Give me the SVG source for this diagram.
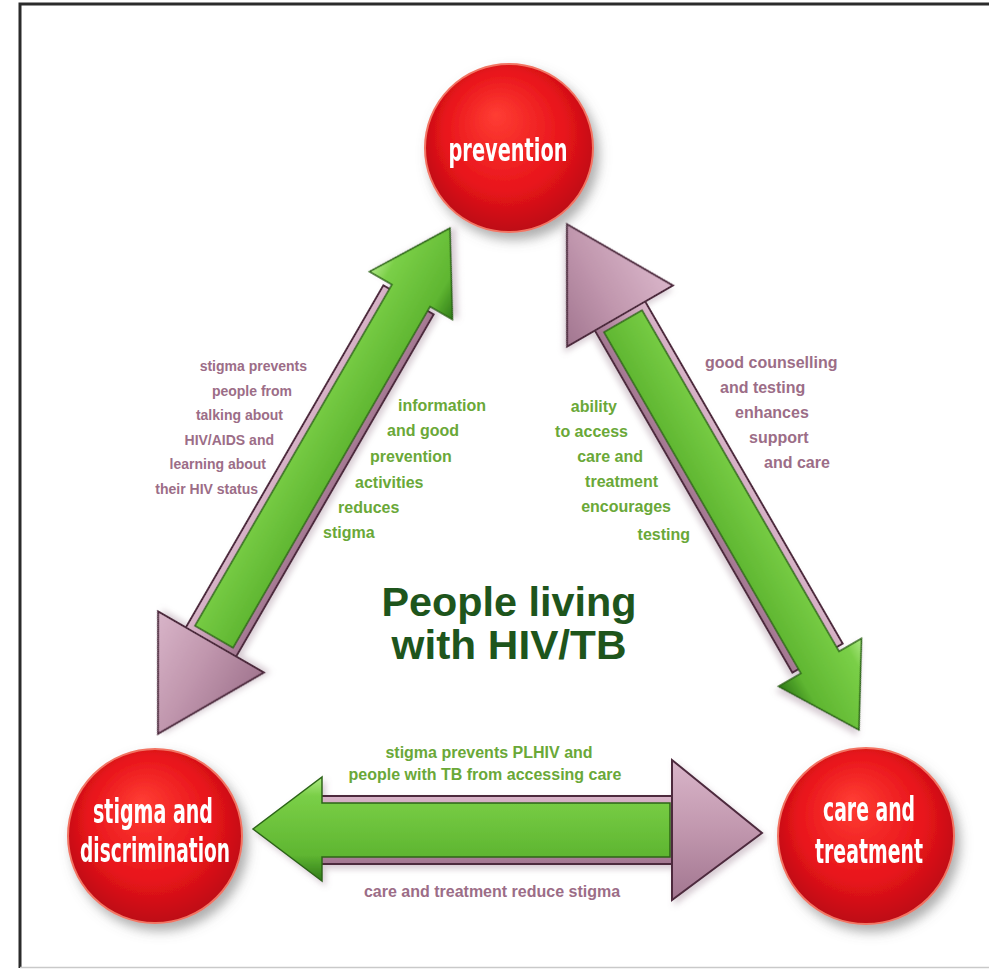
<svg xmlns="http://www.w3.org/2000/svg" width="989" height="971" viewBox="0 0 989 971">
<style>
.note{font-family:"Liberation Sans","DejaVu Sans",sans-serif;font-weight:bold;font-size:16px}
.small{font-size:14px}
.pk{fill:#9c6d87}
.gr{fill:#6aa838}
.ctext{font-family:"DejaVu Sans Condensed","Liberation Sans Narrow","Liberation Sans",sans-serif;font-weight:bold;fill:#ffffff;text-anchor:middle}
.title{font-family:"Liberation Sans","DejaVu Sans",sans-serif;font-weight:bold;font-size:40px;fill:#1e551c;text-anchor:middle}
.pshaft{fill:url(#pinkG);stroke:#4d2a3e;stroke-width:2}
.phead{fill:url(#pinkG);stroke:#4d2a3e;stroke-width:2}
.garrow{fill:url(#greenG);stroke:#2c6516;stroke-width:1.5}
.node circle{fill:url(#redG);stroke:#f27464;stroke-width:2}
</style>
<defs>
<radialGradient id="redG" cx="0.5" cy="0.45" r="0.55" fx="0.42" fy="0.3">
<stop offset="0" stop-color="#ff3d33"/>
<stop offset="0.65" stop-color="#e8141b"/>
<stop offset="1" stop-color="#bd0c12"/>
</radialGradient>
<linearGradient id="greenG" x1="0" y1="0" x2="0" y2="1">
<stop offset="0" stop-color="#aee985"/>
<stop offset="0.18" stop-color="#7acf47"/>
<stop offset="0.75" stop-color="#5fb631"/>
<stop offset="1" stop-color="#2f7a18"/>
</linearGradient>
<linearGradient id="pinkG" x1="0" y1="0" x2="0" y2="1">
<stop offset="0" stop-color="#d9b5c9"/>
<stop offset="0.5" stop-color="#c197ae"/>
<stop offset="1" stop-color="#a27690"/>
</linearGradient>
<filter id="sh" x="-30%" y="-30%" width="170%" height="170%">
<feDropShadow dx="5" dy="7" stdDeviation="6" flood-color="#6a6a6a" flood-opacity="0.55"/>
</filter>
<filter id="ash" x="-20%" y="-20%" width="140%" height="140%">
<feDropShadow dx="3" dy="4" stdDeviation="3" flood-color="#8a6a80" flood-opacity="0.35"/>
</filter>
</defs>
<rect width="989" height="971" fill="#ffffff"/>
<path d="M20,968 V4 H989" stroke="#2b2b2b" stroke-width="3" fill="none"/>
<line x1="20" y1="967.5" x2="989" y2="967.5" stroke="#c9c9c9" stroke-width="1.5"/>

<g id="connectors">
<g id="arrow-left" transform="translate(211,642) rotate(-60)" filter="url(#ash)">
<rect class="pshaft" x="-2" y="-29" width="397" height="58"/>
<polygon class="phead" points="-106,0 0,-61 0,61"/>
<polygon class="garrow" points="6,-22 400,-22 400,-48 478,0 400,48 400,22 6,22"/>
</g>
<g id="arrow-right" transform="translate(620,316) rotate(60)" filter="url(#ash)">
<rect class="pshaft" x="-2" y="-29" width="397" height="58"/>
<polygon class="phead" points="-106,0 0,-61 0,61"/>
<polygon class="garrow" points="6,-22 400,-22 400,-48 478,0 400,48 400,22 6,22"/>
</g>
<g id="arrow-bottom" filter="url(#ash)">
<rect class="pshaft" x="318" y="796" width="356" height="68"/>
<polygon class="phead" points="672,760 762,833 672,900"/>
<polygon class="garrow" points="670,803 322,803 322,777 253,829 322,881 322,857 670,857"/>
</g>
</g>

<g id="node-prevention" class="node" filter="url(#sh)">
<circle cx="509" cy="148" r="84"/>
<text class="ctext" x="508" y="161" font-size="32" textLength="119" lengthAdjust="spacingAndGlyphs">prevention</text>
</g>
<g id="node-stigma" class="node" filter="url(#sh)">
<circle cx="155" cy="836" r="87"/>
<text class="ctext" x="153" y="823" font-size="34" textLength="120" lengthAdjust="spacingAndGlyphs">stigma and</text>
<text class="ctext" x="155" y="862" font-size="34" textLength="150" lengthAdjust="spacingAndGlyphs">discrimination</text>
</g>
<g id="node-care" class="node" filter="url(#sh)">
<circle cx="866" cy="836" r="88"/>
<text class="ctext" x="869" y="821" font-size="33" textLength="92" lengthAdjust="spacingAndGlyphs">care and</text>
<text class="ctext" x="869" y="863" font-size="33" textLength="108" lengthAdjust="spacingAndGlyphs">treatment</text>
</g>

<g id="label-left-pink" class="note small pk" text-anchor="end">
<text x="307" y="371">stigma prevents</text>
<text x="292" y="395.5">people from</text>
<text x="283" y="420">talking about</text>
<text x="274" y="444.5">HIV/AIDS and</text>
<text x="266" y="469">learning about</text>
<text x="258" y="493.5">their HIV status</text>
</g>
<g id="label-left-green" class="note gr">
<text x="398" y="411">information</text>
<text x="387" y="436">and good</text>
<text x="370" y="462">prevention</text>
<text x="355" y="488">activities</text>
<text x="338" y="513">reduces</text>
<text x="323" y="538">stigma</text>
</g>
<g id="label-right-green" class="note gr" text-anchor="end">
<text x="617" y="412">ability</text>
<text x="628" y="437">to access</text>
<text x="643" y="462">care and</text>
<text x="658" y="487">treatment</text>
<text x="671" y="512">encourages</text>
<text x="690" y="540">testing</text>
</g>
<g id="label-right-pink" class="note pk">
<text x="705" y="368">good counselling</text>
<text x="720" y="393">and testing</text>
<text x="735" y="418">enhances</text>
<text x="749" y="443">support</text>
<text x="764" y="468">and care</text>
</g>
<g id="label-bottom" class="note" text-anchor="middle">
<text class="gr" x="489" y="758">stigma prevents PLHIV and</text>
<text class="gr" x="485" y="780">people with TB from accessing care</text>
<text class="pk" x="492" y="897">care and treatment reduce stigma</text>
</g>
<g id="title">
<text class="title" x="509" y="616" textLength="255" lengthAdjust="spacingAndGlyphs">People living</text>
<text class="title" x="509" y="659" textLength="235" lengthAdjust="spacingAndGlyphs">with HIV/TB</text>
</g>
</svg>
